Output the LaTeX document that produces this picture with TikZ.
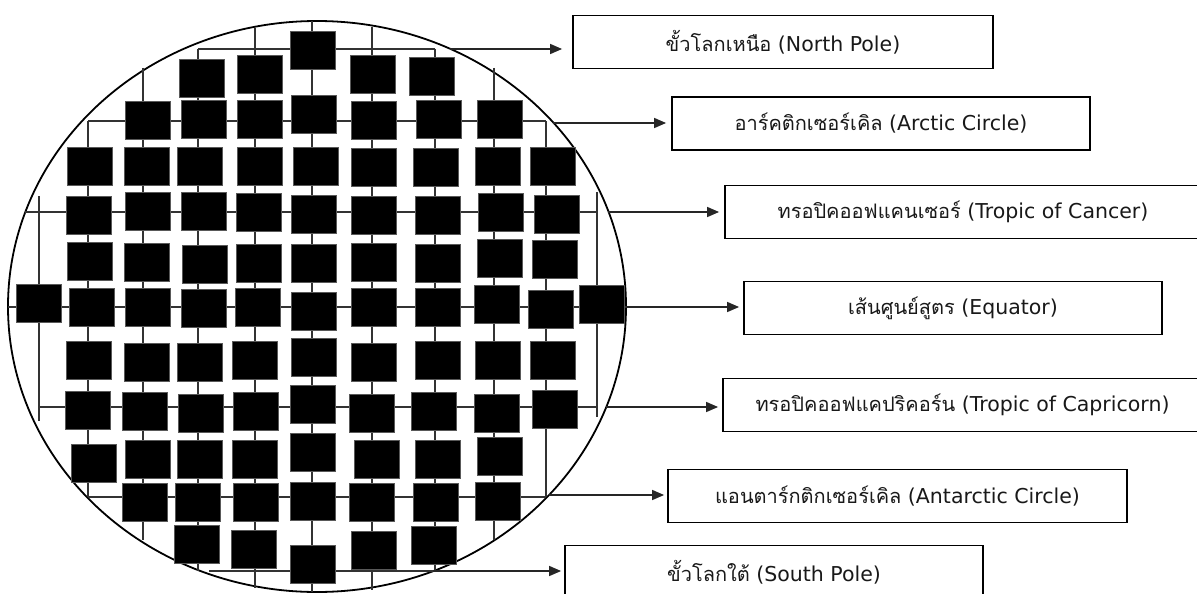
\documentclass[tikz,border=0pt]{standalone}
\usepackage{fontspec}
\setmainfont{DejaVu Sans}
\newfontfamily\thaifont[Script=Thai]{Loma}
\newcommand\thx[1]{{\thaifont\fontsize{20}{22}\selectfont #1}}
\usetikzlibrary{arrows.meta,shapes.geometric}
\begin{document}
\begin{tikzpicture}[x=1pt,y=-1pt,
  cell/.style={rectangle,fill=black,draw=black!65,line width=0.6pt,minimum width=45pt,minimum height=38pt,inner sep=0pt},
  lbl/.style={rectangle,draw=black,line width=1.8pt,fill=white,minimum height=53pt,inner sep=0pt,text=black!90,font=\fontsize{20.5}{22}\selectfont},
  gridline/.style={draw=black!80,line width=1.4pt},
  arr/.style={draw=black!85,line width=1.4pt,-{Triangle[length=12pt,width=10pt]}}]
\clip (0,0) rectangle (1197,594);
\fill[white] (0,0) rectangle (1197,594);
% globe outline
\node[ellipse,draw=black,line width=1.8pt,minimum width=618pt,minimum height=571pt,inner sep=0pt] (globe) at (317,306.5) {};
% grid
\draw[gridline] (198,49)--(435,49);
\draw[gridline] (88,121)--(546,121);
\draw[gridline] (25,212)--(597,212);
\draw[gridline] (8,307)--(626,307);
\draw[gridline] (39,407)--(597,407);
\draw[gridline] (88,497)--(546,497);
\draw[gridline] (209,571)--(435,571);
\draw[gridline] (39,196)--(39,421);
\draw[gridline] (88,121)--(88,497);
\draw[gridline] (143,68)--(143,540);
\draw[gridline] (198,49)--(198,571);
\draw[gridline] (255,28)--(255,588);
\draw[gridline] (312,21)--(312,592);
\draw[gridline] (372,27)--(372,590);
\draw[gridline] (435,49)--(435,571);
\draw[gridline] (494,68)--(494,540);
\draw[gridline] (546,121)--(546,497);
\draw[gridline] (597,192)--(597,417);
% cells
\foreach \x/\y [count=\i] in {
 313/50.5,
 202/78.5, 260/74.5, 373/74.5, 432/76.5,
 148/120.5, 203.5/119.5, 260/119.5, 314/114, 373.5/120.5, 439/119.5, 499.5/119.5,
 90/166.5, 147/166.5, 199.5/166.5, 260/166.5, 315.5/166, 373.5/167.5, 435.5/167.5, 497.5/166.5, 552.5/166.5,
 88.5/215, 148/211, 203.5/211, 259/212, 314/214.5, 373.5/215, 438/215, 501/212.5, 556.5/214,
 90/261, 147/262, 205/264.5, 259/263.5, 314/263.5, 374/262, 438/263.5, 499.5/258.5, 555/259.5,
 38.5/303.5, 91.5/307.5, 148/307.5, 203.5/308.5, 258/307.5, 314/311.5, 373.5/307.5, 437.5/307.5, 497/304.5, 551/309.5, 601.5/304.5,
 88.5/360.5, 147/362, 199.5/362, 255/360.5, 313.5/357.5, 374/362, 438/360.5, 497.5/360.5, 552.5/360.5,
 87.5/410.5, 144.5/411.5, 201/413.5, 256/411.5, 313/404.5, 372/413.5, 434/411.5, 497/413.5, 555/409.5,
 94/463.5, 148/459, 199.5/459, 255/459, 313/452, 377/459, 438/459, 499.5/456.5,
 144.5/502.5, 198/502, 256/502, 313/501.5, 372/502.5, 435.5/502, 498/501.5,
 197/544, 253.5/549, 313/564.5, 374/550.5, 434/545.5}
 \node[cell] (c\i) at (\x,\y) {};
% label boxes
\node[lbl,minimum width=420pt] (np) at (783,42) {\thx{ขั้วโลกเหนือ} (North Pole)};
\node[lbl,minimum width=418pt] (ac) at (881,123.5) {\thx{อาร์คติกเซอร์เคิล} (Arctic Circle)};
\node[lbl,minimum width=476pt] (tc) at (963,212) {\thx{ทรอปิคออฟแคนเซอร์} (Tropic of Cancer)};
\node[lbl,minimum width=418pt] (eq) at (953,308) {\thx{เส้นศูนย์สูตร} (Equator)};
\node[lbl,minimum width=479pt] (tp) at (962.5,405) {\thx{ทรอปิคออฟแคปริคอร์น} (Tropic of Capricorn)};
\node[lbl,minimum width=459pt] (an) at (897.5,496) {\thx{แอนตาร์กติกเซอร์เคิล} (Antarctic Circle)};
\node[lbl,minimum width=418pt] (sp) at (774,572) {\thx{ขั้วโลกใต้} (South Pole)};
% arrows
\coordinate (sN) at (450,49);
\coordinate (sA) at (553,123);
\coordinate (sC) at (608,212);
\coordinate (sE) at (626,307);
\coordinate (sP) at (606,407);
\coordinate (sT) at (549,495);
\coordinate (sS) at (433,571);
\draw[arr,shorten >=10pt] (sN) -- (sN -| np.west);
\draw[arr,shorten >=5pt] (sA) -- (sA -| ac.west);
\draw[arr,shorten >=5pt] (sC) -- (sC -| tc.west);
\draw[arr,shorten >=4pt] (sE) -- (sE -| eq.west);
\draw[arr,shorten >=4pt] (sP) -- (sP -| tp.west);
\draw[arr,shorten >=3pt] (sT) -- (sT -| an.west);
\draw[arr,shorten >=3pt] (sS) -- (sS -| sp.west);
\end{tikzpicture}
\end{document}
